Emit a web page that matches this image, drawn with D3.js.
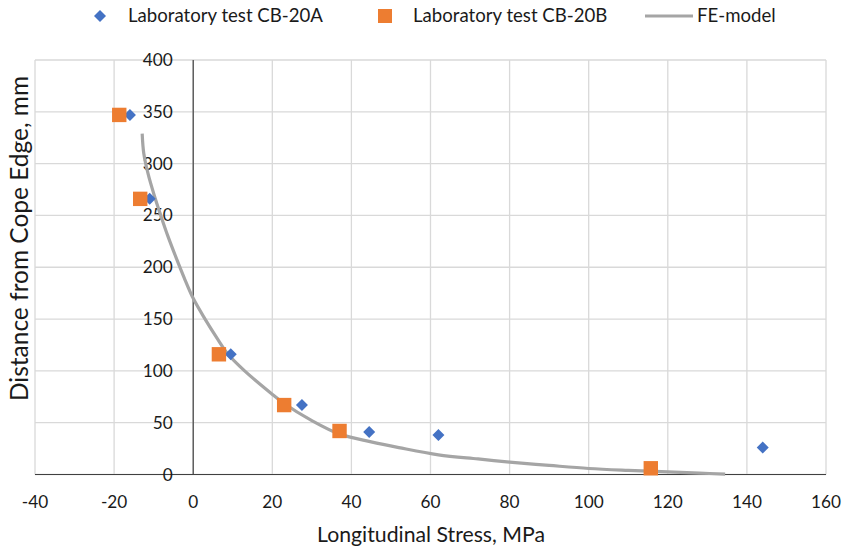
<!DOCTYPE html>
<html>
<head>
<meta charset="utf-8">
<script src="https://cdn.jsdelivr.net/npm/d3@7"></script>
<style>
  body { margin: 0; background: #fff; }
  text { font-family: Lato, "Open Sans", sans-serif; fill: #1a1a1a; }
</style>
</head>
<body>
<div id="chart"></div>
<script>
// test points: [stress MPa, distance mm]
var cb20A = [[-16, 347], [-11, 266], [9.5, 116], [27.5, 67], [44.5, 41], [62, 38], [144, 26]];
var cb20B = [[-18.7, 347], [-13.4, 266], [6.5, 116], [23, 67], [37, 42], [115.7, 6]];
// FE-model curve
var feModel = [[-12.9, 329], [-12.5, 310], [-11.4, 290], [-9.9, 270], [-8.2, 250], [-6.4, 230],
  [-4.4, 210], [-2.3, 190], [0, 170], [3, 150], [6.3, 130], [8.6, 117], [13, 100], [19.8, 78],
  [22.8, 69], [30, 52], [37, 39], [45, 31.5], [52, 26], [62, 19], [72, 15], [80, 12], [90, 8.8],
  [100, 5.8], [110, 4], [120, 2.6], [128, 1.4], [134.5, 0.3]];
var xTicks = [-40, -20, 0, 20, 40, 60, 80, 100, 120, 140, 160];
var yTicks = [0, 50, 100, 150, 200, 250, 300, 350, 400];

var W = 845, H = 550;
var svg = d3.select("#chart").append("svg").attr("width", W).attr("height", H);

var x = d3.scaleLinear().domain([-40, 160]).range([35, 826]);
var y = d3.scaleLinear().domain([0, 400]).range([474.5, 60]);

// shrink/grow a text's font so it takes the given width
function fitWidth(sel, w) {
  var fs = parseFloat(sel.style("font-size"));
  var len = sel.node().getComputedTextLength();
  sel.style("font-size", (fs * w / len).toFixed(2) + "px");
  return fs * w / len;
}

// grid
svg.append("g").selectAll("line").data(xTicks).enter().append("line")
  .attr("x1", d => x(d)).attr("x2", d => x(d)).attr("y1", y(400)).attr("y2", y(0))
  .style("stroke", "#d9d9d9").style("stroke-width", 1.3);
svg.append("g").selectAll("line").data(yTicks).enter().append("line")
  .attr("x1", x(-40)).attr("x2", x(160)).attr("y1", d => y(d)).attr("y2", d => y(d))
  .style("stroke", "#d9d9d9").style("stroke-width", 1.3);

// axis lines through zero
svg.append("line").attr("x1", x(0)).attr("x2", x(0)).attr("y1", y(400)).attr("y2", y(0))
  .style("stroke", "#404040").style("stroke-width", 1.2);
svg.append("line").attr("x1", x(-40)).attr("x2", x(160)).attr("y1", y(0)).attr("y2", y(0))
  .style("stroke", "#404040").style("stroke-width", 1.2);

// tick label size: "400" is about 30px wide
var probe = svg.append("text").style("font-size", "17px").text("400");
var tickSize = fitWidth(probe, 30);
probe.remove();

svg.append("g").selectAll("text").data(xTicks).enter().append("text")
  .attr("x", d => x(d)).attr("y", 502).attr("dy", "0.35em")
  .attr("text-anchor", "middle").style("font-size", tickSize + "px").text(d => d);
svg.append("g").selectAll("text").data(yTicks).enter().append("text")
  .attr("x", x(0) - 20.5).attr("y", d => y(d)).attr("dy", "0.35em")
  .attr("text-anchor", "end").style("font-size", tickSize + "px").text(d => d);

// axis titles
var xt = svg.append("text").attr("x", 431).attr("y", 535).attr("dy", "0.35em")
  .attr("text-anchor", "middle").style("font-size", "18px").text("Longitudinal Stress, MPa");
fitWidth(xt, 228);
var yt = svg.append("text").attr("transform", "translate(19,238.5) rotate(-90)").attr("dy", "0.35em")
  .attr("text-anchor", "middle").style("font-size", "18px").text("Distance from Cope Edge, mm");
fitWidth(yt, 325);

// FE-model line
var line = d3.line().x(d => x(d[0])).y(d => y(d[1])).curve(d3.curveCatmullRom.alpha(0.5));
svg.append("path").datum(feModel).attr("d", line)
  .style("fill", "none").style("stroke", "#a5a5a5").style("stroke-width", 3.2);

// diamonds
var diamond = d3.symbol().type(d3.symbolSquare).size(72);
svg.append("g").selectAll("path").data(cb20A).enter().append("path")
  .attr("d", diamond)
  .attr("transform", d => "translate(" + x(d[0]) + "," + y(d[1]) + ") rotate(45)")
  .style("fill", "#4472c4");

// squares
svg.append("g").selectAll("rect").data(cb20B).enter().append("rect")
  .attr("x", d => x(d[0]) - 7.2).attr("y", d => y(d[1]) - 7.2)
  .attr("width", 14.4).attr("height", 14.4)
  .style("fill", "#ed7d31");

// legend
var lg = svg.append("g");
lg.append("path").attr("d", diamond).attr("transform", "translate(100,16) rotate(45)")
  .style("fill", "#4472c4");
var l1 = lg.append("text").attr("x", 128).attr("y", 15).attr("dy", "0.35em").style("font-size", "18px")
  .text("Laboratory test CB-20A");
var legSize = fitWidth(l1, 195);
lg.append("rect").attr("x", 378).attr("y", 9).attr("width", 14).attr("height", 14)
  .style("fill", "#ed7d31");
lg.append("text").attr("x", 413).attr("y", 15).attr("dy", "0.35em").style("font-size", legSize + "px")
  .text("Laboratory test CB-20B");
lg.append("line").attr("x1", 645).attr("x2", 693).attr("y1", 16).attr("y2", 16)
  .style("stroke", "#a5a5a5").style("stroke-width", 3.2);
lg.append("text").attr("x", 697).attr("y", 15).attr("dy", "0.35em").style("font-size", legSize + "px")
  .text("FE-model");
</script>
</body>
</html>
